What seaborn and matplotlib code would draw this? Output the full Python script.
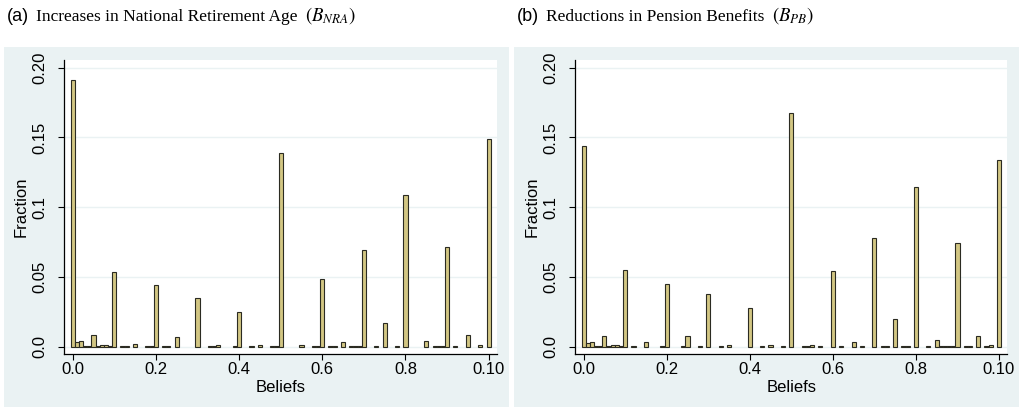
import matplotlib
matplotlib.use("Agg")
import matplotlib.pyplot as plt
from matplotlib.patches import Rectangle
import seaborn as sns

plt.rcParams["mathtext.fontset"] = "stix"
plt.rcParams["font.family"] = ["Liberation Sans", "DejaVu Sans"]

# belief values and fraction of respondents
beliefs_nra = [0.00, 0.01, 0.02, 0.03, 0.04, 0.05, 0.06, 0.07, 0.08, 0.09,
               0.10, 0.12, 0.13, 0.15, 0.18, 0.19, 0.20, 0.22, 0.23, 0.25,
               0.30, 0.33, 0.34, 0.35, 0.39, 0.40, 0.43, 0.45, 0.48, 0.49,
               0.50, 0.55, 0.58, 0.59, 0.60, 0.62, 0.63, 0.65, 0.67, 0.68,
               0.69, 0.70, 0.73, 0.75, 0.78, 0.80, 0.85, 0.87, 0.88, 0.89,
               0.90, 0.92, 0.95, 0.98, 1.00]
fraction_nra = [0.191, 0.003, 0.0043, 0.0004, 0.0004, 0.0082, 0.0004, 0.001, 0.001, 0.0004,
                0.0535, 0.0003, 0.0003, 0.002, 0.0003, 0.0003, 0.0444, 0.0003, 0.0003, 0.0072,
                0.035, 0.0003, 0.0003, 0.001, 0.0003, 0.0247, 0.0003, 0.001, 0.0003, 0.0003,
                0.139, 0.001, 0.0003, 0.0003, 0.0483, 0.0003, 0.0003, 0.003, 0.0006, 0.0003,
                0.0003, 0.0693, 0.0003, 0.0172, 0.0003, 0.109, 0.0041, 0.0003, 0.0003, 0.0003,
                0.0712, 0.0003, 0.0086, 0.001, 0.149]

beliefs_pb = [0.00, 0.01, 0.02, 0.03, 0.04, 0.05, 0.06, 0.07, 0.08, 0.09,
              0.10, 0.12, 0.15, 0.19, 0.20, 0.24, 0.25, 0.28, 0.30, 0.33,
              0.35, 0.40, 0.43, 0.45, 0.48, 0.50, 0.53, 0.54, 0.55, 0.57,
              0.60, 0.62, 0.65, 0.67, 0.70, 0.72, 0.73, 0.75, 0.77, 0.78,
              0.80, 0.83, 0.85, 0.86, 0.87, 0.88, 0.89, 0.90, 0.92, 0.93,
              0.95, 0.97, 0.98, 1.00]
fraction_pb = [0.1439, 0.0029, 0.0036, 0.0004, 0.0004, 0.0079, 0.0004, 0.001, 0.001, 0.0005,
               0.055, 0.0003, 0.0034, 0.0003, 0.045, 0.0003, 0.0077, 0.0003, 0.0375, 0.0003,
               0.001, 0.0275, 0.0003, 0.001, 0.0003, 0.1675, 0.0003, 0.0003, 0.001, 0.0003,
               0.0545, 0.0003, 0.0032, 0.0003, 0.0777, 0.0003, 0.0003, 0.0201, 0.0003, 0.0003,
               0.1145, 0.0003, 0.0048, 0.0004, 0.0004, 0.0004, 0.0004, 0.0741, 0.0003, 0.0003,
               0.0077, 0.0003, 0.001, 0.1337]

xticks = [0.0, 0.2, 0.4, 0.6, 0.8, 1.0]
xticklabels = ["0.0", "0.2", "0.4", "0.6", "0.8", "0.10"]
yticks = [0.0, 0.05, 0.1, 0.15, 0.20]
yticklabels = ["0.0", "0.05", "0.1", "0.15", "0.20"]

panel_tags = ["(a)", "(b)"]
panel_titles = ["Increases in National Retirement Age", "Reductions in Pension Benefits"]
panel_symbols = [r"$(B_{NRA})$", r"$(B_{PB})$"]

W, H = 1022, 412
BG = "#EAF2F3"
FILL = "#D2C683"
EDGE = "#2b2b22"

fig = plt.figure(figsize=(W / 100, H / 100), dpi=100)
fig.patch.set_facecolor("white")

boxes = [(4, 509), (514, 1019)]
axes_px = [(64.3, 497), (575.3, 1007.3)]
top_px, bot_px = 60, 354

data = [(beliefs_nra, fraction_nra), (beliefs_pb, fraction_pb)]

for i in range(2):
    x0, x1 = boxes[i]
    fig.patches.append(Rectangle((x0 / W, 1 - 407 / H), (x1 - x0) / W, (407 - 47) / H,
                                 transform=fig.transFigure, facecolor=BG,
                                 edgecolor="none", zorder=-10))
    l, r = axes_px[i]
    ax = fig.add_axes([l / W, 1 - bot_px / H, (r - l) / W, (bot_px - top_px) / H])
    ax.set_zorder(2)
    ax.set_facecolor("white")
    xs, ys = data[i]
    sns.histplot(x=xs, weights=ys, binwidth=0.01, binrange=(-0.005, 1.005),
                 color=FILL, edgecolor=EDGE, linewidth=0.8, alpha=1, ax=ax, zorder=3)
    for p in ax.patches:
        if p.get_height() <= 0:
            p.set_visible(False)
    ax.set_xlim(-0.02, 1.02)
    ax.set_ylim(-0.0053, 0.2055)
    for y in yticks:
        ax.axhline(y, color=BG, lw=1.0, zorder=1)
    for s in ["top", "right"]:
        ax.spines[s].set_visible(False)
    for s in ["left", "bottom"]:
        ax.spines[s].set_color("black")
        ax.spines[s].set_linewidth(0.9)
    ax.set_xticks(xticks)
    ax.set_xticklabels(xticklabels, fontsize=12)
    ax.set_yticks(yticks)
    ax.set_yticklabels(yticklabels, fontsize=12, rotation=90, va="center")
    ax.tick_params(axis="both", length=4, width=0.8, color="black", direction="out")
    ax.tick_params(axis="y", pad=8)
    ax.tick_params(axis="x", pad=2)
    ax.set_xlabel("Beliefs", fontsize=12, labelpad=2)
    ax.set_ylabel("Fraction", fontsize=12, labelpad=3)

fig.canvas.draw()
renderer = fig.canvas.get_renderer()
tag_x = [7, 517]
base_y = 1 - 21 / H
for i in range(2):
    tg = fig.text(tag_x[i] / W, base_y, panel_tags[i], fontsize=13,
                  family=["Liberation Sans", "DejaVu Sans"], va="baseline", ha="left")
    bb = tg.get_window_extent(renderer)
    t = fig.text((bb.x1 + 7) / W, base_y, panel_titles[i], fontsize=12.5,
                 family=["Liberation Serif", "DejaVu Serif"], va="baseline", ha="left")
    bb = t.get_window_extent(renderer)
    fig.text((bb.x1 + 7) / W, base_y, panel_symbols[i], fontsize=13.5,
             va="baseline", ha="left")

fig.savefig("out.png", dpi=100)
